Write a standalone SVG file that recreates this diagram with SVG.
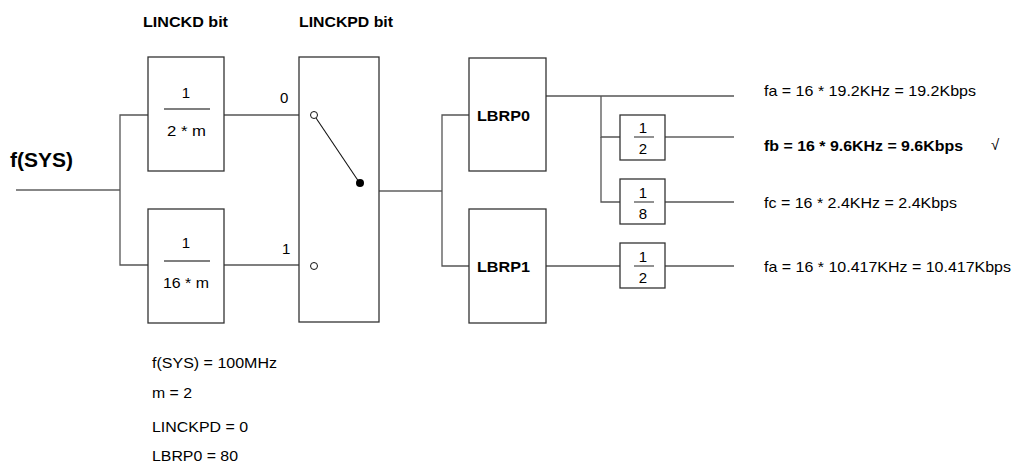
<svg xmlns="http://www.w3.org/2000/svg" width="1013" height="463" viewBox="0 0 1013 463">
<style>
text{font-family:"Liberation Sans",Arial,sans-serif;fill:#000}
.n{font-size:15px}
.r{font-size:15px}
.h{font-size:14px;font-weight:bold}
.b{font-weight:bold}
.box{fill:#fff;stroke:#333;stroke-width:1.3}
.frac{stroke:#555;stroke-width:1.3}
.w{stroke:#555;stroke-width:1.3;fill:none}
.k{stroke:#111;stroke-width:1.2;fill:none}
</style>
<rect width="1013" height="463" fill="#fff"/>
<g id="labels">
<text class="h" x="143" y="27" textLength="85" lengthAdjust="spacingAndGlyphs">LINCKD bit</text>
<text class="h" x="299" y="27" textLength="94" lengthAdjust="spacingAndGlyphs">LINCKPD bit</text>
<text x="10" y="167" font-size="20" font-weight="bold" textLength="63" lengthAdjust="spacingAndGlyphs">f(SYS)</text>
</g>
<g id="connectors">
<line class="k" x1="16" y1="190" x2="120" y2="190"/>
<polyline class="w" points="148,115 120,115 120,265 148,265"/>
<line class="w" x1="224" y1="115" x2="310.5" y2="115"/>
<line class="w" x1="224" y1="265" x2="310.5" y2="265"/>
<line class="k" x1="379" y1="191" x2="442" y2="191"/>
<polyline class="w" points="469,115 442,115 442,266 469,266"/>
<line class="w" x1="546" y1="96" x2="734" y2="96"/>
<polyline class="w" points="620,137 601,137 601,96"/>
<polyline class="w" points="601,137 601,202 620,202"/>
<line class="k" x1="665" y1="137" x2="734" y2="137"/>
<line class="w" x1="665" y1="202" x2="734" y2="202"/>
<line class="w" x1="546" y1="266" x2="620" y2="266"/>
<line class="w" x1="665" y1="266" x2="734" y2="266"/>
</g>
<g id="div2m">
<rect class="box" x="148" y="57" width="76" height="114"/>
<line class="frac" x1="164" y1="109" x2="210" y2="109"/>
<text class="n" x="186" y="98" text-anchor="middle">1</text>
<text class="n" x="167" y="136" textLength="39" lengthAdjust="spacingAndGlyphs">2 * m</text>
</g>
<g id="div16m">
<rect class="box" x="148" y="209" width="76" height="114"/>
<line class="frac" x1="164" y1="261" x2="210" y2="261"/>
<text class="n" x="186" y="248" text-anchor="middle">1</text>
<text class="n" x="163" y="288" textLength="46" lengthAdjust="spacingAndGlyphs">16 * m</text>
</g>
<g id="switch">
<rect class="box" x="299" y="57" width="80" height="265"/>
<text class="n" x="280" y="103">0</text>
<text class="n" x="282" y="254">1</text>
<line x1="316" y1="118" x2="359" y2="182" stroke="#111" stroke-width="1.1"/>
<circle cx="314" cy="115" r="3.5" fill="#fff" stroke="#111" stroke-width="1"/>
<circle cx="314" cy="266" r="3.5" fill="#fff" stroke="#111" stroke-width="1"/>
<circle cx="360" cy="183" r="4" fill="#000"/>
</g>
<g id="lbrp0">
<rect class="box" x="469" y="58" width="77" height="113"/>
<text class="b" x="477" y="121" font-size="15" textLength="53" lengthAdjust="spacingAndGlyphs">LBRP0</text>
</g>
<g id="lbrp1">
<rect class="box" x="469" y="209" width="77" height="114"/>
<text class="b" x="477" y="272" font-size="15" textLength="53" lengthAdjust="spacingAndGlyphs">LBRP1</text>
</g>
<g id="half1">
<rect class="box" x="620" y="115" width="45" height="45"/>
<line class="frac" x1="634" y1="137" x2="654" y2="137"/>
<text class="r" x="643" y="133" text-anchor="middle">1</text>
<text class="r" x="643" y="154" text-anchor="middle">2</text>
</g>
<g id="eighth">
<rect class="box" x="620" y="179" width="45" height="45"/>
<line class="frac" x1="634" y1="202" x2="654" y2="202"/>
<text class="r" x="643" y="198" text-anchor="middle">1</text>
<text class="r" x="643" y="219" text-anchor="middle">8</text>
</g>
<g id="half2">
<rect class="box" x="620" y="243" width="45" height="45"/>
<line class="frac" x1="634" y1="266" x2="654" y2="266"/>
<text class="r" x="643" y="262" text-anchor="middle">1</text>
<text class="r" x="643" y="283" text-anchor="middle">2</text>
</g>
<g id="outputs">
<text class="r" x="764" y="96" textLength="212" lengthAdjust="spacingAndGlyphs">fa = 16 * 19.2KHz = 19.2Kbps</text>
<text class="r b" x="764" y="151" textLength="199" lengthAdjust="spacingAndGlyphs">fb = 16 * 9.6KHz = 9.6Kbps</text>
<text class="n" x="991" y="150">√</text>
<text class="r" x="764" y="208" textLength="193" lengthAdjust="spacingAndGlyphs">fc = 16 * 2.4KHz = 2.4Kbps</text>
<text class="r" x="764" y="272" textLength="247" lengthAdjust="spacingAndGlyphs">fa = 16 * 10.417KHz = 10.417Kbps</text>
</g>
<g id="params">
<text class="n" x="152" y="368" textLength="125" lengthAdjust="spacingAndGlyphs">f(SYS) = 100MHz</text>
<text class="n" x="152" y="398" textLength="40" lengthAdjust="spacingAndGlyphs">m = 2</text>
<text class="n" x="152" y="432" textLength="96" lengthAdjust="spacingAndGlyphs">LINCKPD = 0</text>
<text class="n" x="152" y="461" textLength="86" lengthAdjust="spacingAndGlyphs">LBRP0 = 80</text>
</g>
</svg>
